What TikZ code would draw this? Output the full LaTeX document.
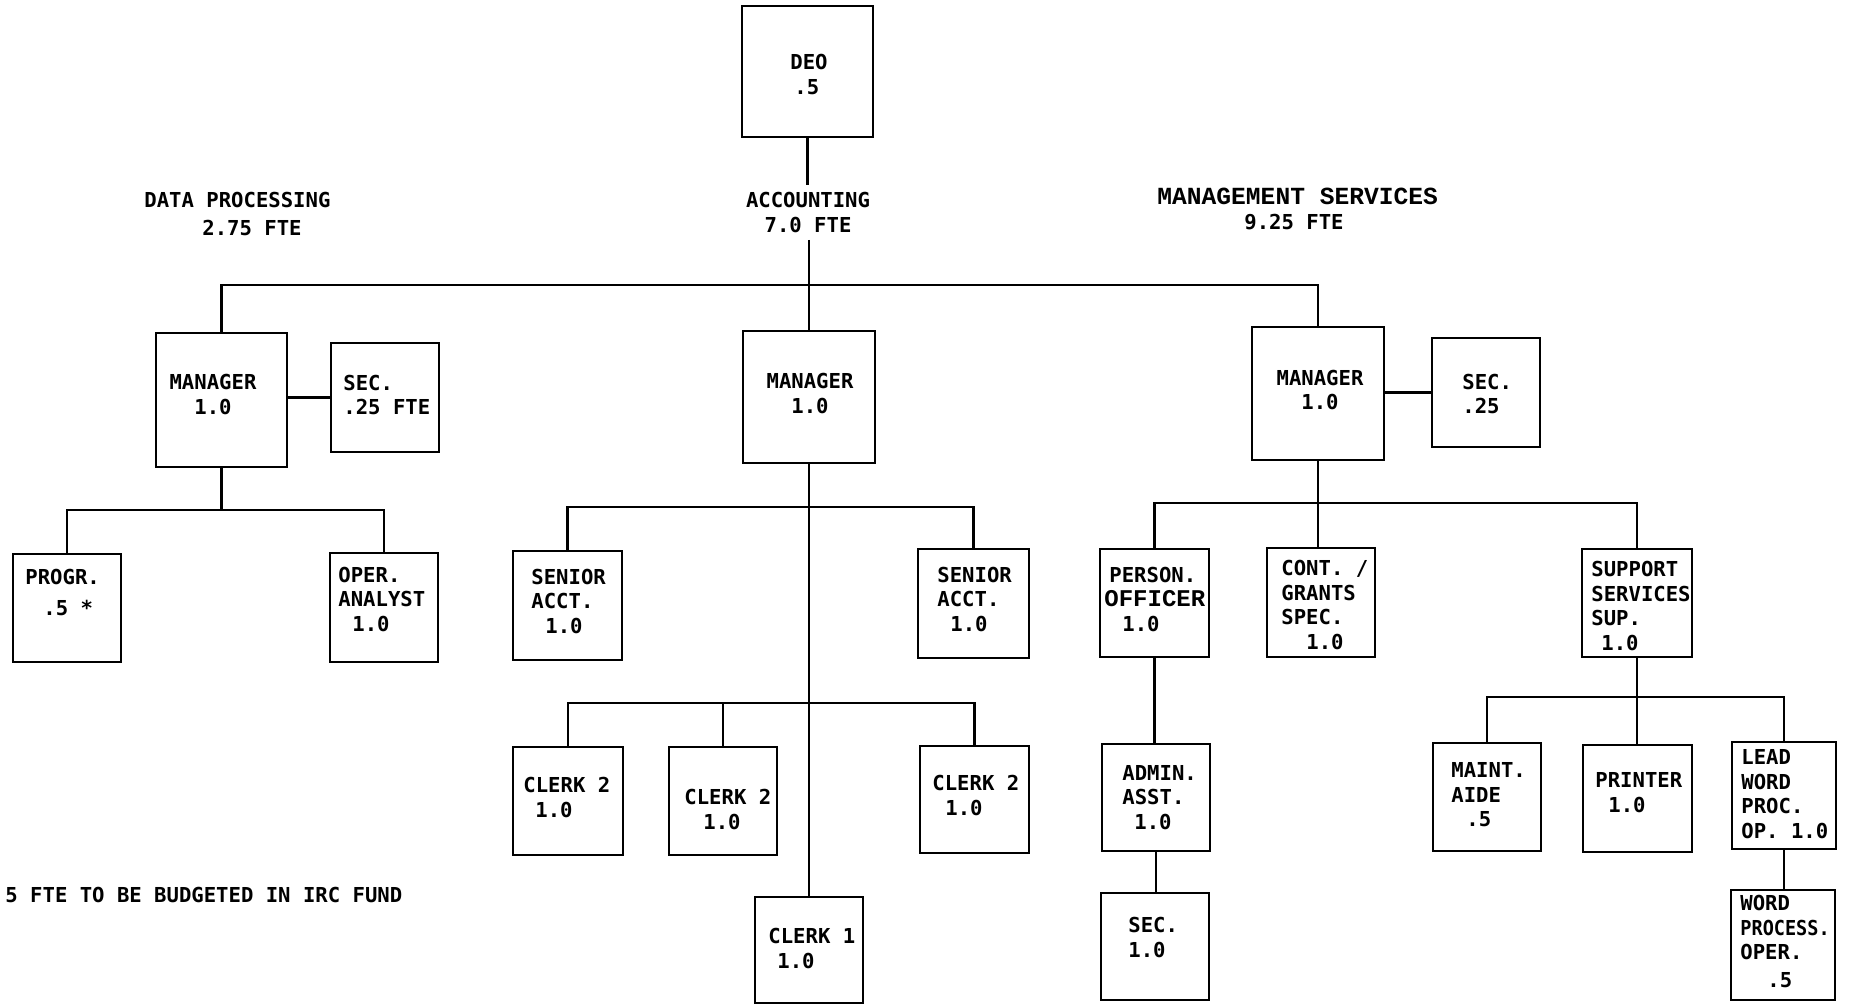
\documentclass[tikz,border=0pt]{standalone}
\usepackage{fontspec}
\usepackage{graphicx}
\newfontfamily\lgf{DejaVu Sans Mono}
\newfontfamily\courf{Liberation Mono}
\usetikzlibrary{fit}
\tikzset{
  box/.style={draw, line width=1.4pt, inner sep=0pt, rectangle},
  conn/.style={line width=1.3pt},
  txt/.style={inner sep=0pt, align=left, anchor=west, font=\lgf\bfseries\fontsize{10.3pt}{12.25pt}\selectfont},
  ctxt/.style={txt, align=center, anchor=center},
  cour/.style={inner sep=0pt, anchor=west, font=\courf\bfseries\fontsize{12.3pt}{14pt}\selectfont},
}
\newcommand\offc{\courf\bfseries\fontsize{12pt}{12.25pt}\selectfont}
\begin{document}
\begin{tikzpicture}[x=0.5pt,y=-0.5pt]
\fill[white] (0,0) rectangle (1850,1007);
\useasboundingbox (0,0) rectangle (1850,1007);

% boxes
\node[box, fit={(742,6)(873,137)}] (deo) {};
\node[box, fit={(156,333)(287,467)}] (dpmgr) {};
\node[box, fit={(331,343)(439,452)}] (dpsec) {};
\node[box, fit={(743,331)(875,463)}] (accmgr) {};
\node[box, fit={(1252,327)(1384,460)}] (msmgr) {};
\node[box, fit={(1432,338)(1540,447)}] (mssec) {};
\node[box, fit={(13,554)(121,662)}] (progr) {};
\node[box, fit={(330,553)(438,662)}] (oper) {};
\node[box, fit={(513,551)(622,660)}] (senA) {};
\node[box, fit={(918,549)(1029,658)}] (senB) {};
\node[box, fit={(513,747)(623,855)}] (clkA) {};
\node[box, fit={(669,747)(777,855)}] (clkB) {};
\node[box, fit={(920,746)(1029,853)}] (clkC) {};
\node[box, fit={(755,897)(863,1003)}] (clk1) {};
\node[box, fit={(1100,549)(1209,657)}] (person) {};
\node[box, fit={(1267,548)(1375,657)}] (cont) {};
\node[box, fit={(1582,549)(1692,657)}] (supp) {};
\node[box, fit={(1102,744)(1210,851)}] (admin) {};
\node[box, fit={(1101,893)(1209,1000)}] (sec1) {};
\node[box, fit={(1433,743)(1541,851)}] (maint) {};
\node[box, fit={(1583,745)(1692,852)}] (printer) {};
\node[box, fit={(1732,742)(1836,849)}] (lead) {};
\node[box, fit={(1731,890)(1835,1000)}] (wordp) {};

% headings
\node[txt] (dplbl) at (144,214) {DATA PROCESSING\\[2pt]\hspace*{29pt}2.75 FTE};
\node[ctxt, inner ysep=3.5pt] (acclbl) at (808,212.5) {ACCOUNTING\\7.0 FTE};
\node[cour] (mslbl) at (1157,196) {MANAGEMENT SERVICES};
\node[txt] (msfte) at (1244,222) {9.25 FTE};

% connectors
\coordinate (bus0) at (0,285);
\coordinate (dpb) at (0,510);
\coordinate (accb1) at (0,507);
\coordinate (accb2) at (0,703);
\coordinate (msb) at (0,503);
\coordinate (ssb) at (0,697);

\draw[conn] (deo.south) -- (deo.south |- acclbl.north);
\draw[conn] (acclbl.south -| accmgr.north) -- (accmgr.north);
\draw[conn] (dpmgr.north) -- (dpmgr.north |- bus0) -- (msmgr.north |- bus0) -- (msmgr.north);

\draw[conn] (dpmgr.south) -- (dpmgr.south |- dpb);
\draw[conn] (progr.north) -- (progr.north |- dpb) -- (oper.north |- dpb) -- (oper.north);
\draw[conn] (dpsec.west) -- (dpsec.west -| dpmgr.east);

\draw[conn] (accmgr.south) -- (accmgr.south |- clk1.north);
\draw[conn] (senA.north) -- (senA.north |- accb1) -- (senB.north |- accb1) -- (senB.north);
\draw[conn] (clkA.north) -- (clkA.north |- accb2) -- (clkC.north |- accb2) -- (clkC.north);
\draw[conn] (clkB.north) -- (clkB.north |- accb2);

\draw[conn] (msmgr.south) -- (msmgr.south |- cont.north);
\draw[conn] (person.north) -- (person.north |- msb) -- (supp.north |- msb) -- (supp.north);
\draw[conn] (mssec.west) -- (mssec.west -| msmgr.east);
\draw[conn] (person.south) -- (person.south |- admin.north);
\draw[conn] (admin.south) -- (admin.south |- sec1.north);
\draw[conn] (supp.south) -- (supp.south |- printer.north);
\draw[conn] (maint.north) -- (maint.north |- ssb) -- (lead.north |- ssb) -- (lead.north);
\draw[conn] (lead.south) -- (lead.south |- wordp.north);

% box texts
\node[txt] (tdeo) at (790,74.5) {DEO\\\hspace*{2pt}.5};
\node[ctxt] (tdpmgr) at (213,394.5) {MANAGER\\1.0};
\node[txt] (tdpsec) at (343,395) {SEC.\\.25 FTE};
\node[ctxt] (taccmgr) at (810,393.5) {MANAGER\\1.0};
\node[ctxt] (tmsmgr) at (1320,390) {MANAGER\\1.0};
\node[txt] (tmssec) at (1462,394) {SEC.\\.25};
\node[txt] (tprogr) at (25,592.5) {PROGR.\\[3pt]\hspace*{9pt}.5 *};
\node[txt] (toper) at (338,599) {OPER.\\ANALYST\\\hspace*{7pt}1.0};
\node[txt] (tsenA) at (531,601) {SENIOR\\ACCT.\\\hspace*{7pt}1.0};
\node[txt] (tsenB) at (937,599) {SENIOR\\ACCT.\\\hspace*{6.5pt}1.0};
\node[txt] (tclkA) at (523,797.5) {CLERK 2\\\hspace*{6pt}1.0};
\node[txt] (tclkB) at (684,809.5) {CLERK 2\\\hspace*{9.5pt}1.0};
\node[txt] (tclkC) at (932,795.5) {CLERK 2\\\hspace*{6.5pt}1.0};
\node[txt] (tclk1) at (768,948.5) {CLERK 1\\\hspace*{4.5pt}1.0};
\node[txt] (tperson) at (1104,599) {\hspace*{2.5pt}PERSON.\\{\offc OFFICER}\\\hspace*{9pt}1.0};
\node[txt] (tcont) at (1281,605) {CONT. /\\GRANTS\\SPEC.\\\hspace*{12.5pt}1.0};
\node[txt] (tsupp) at (1591,606) {SUPPORT\\SERVICES\\SUP.\\\hspace*{5pt}1.0};
\node[txt] (tadmin) at (1122,797.5) {ADMIN.\\ASST.\\\hspace*{6pt}1.0};
\node[txt] (tsec1) at (1128,937.5) {SEC.\\1.0};
\node[txt] (tmaint) at (1451,795) {MAINT.\\AIDE\\\hspace*{7.5pt}.5};
\node[txt] (tprinter) at (1595,792.5) {PRINTER\\\hspace*{6.5pt}1.0};
\node[txt] (tlead) at (1741,794) {LEAD\\WORD\\PROC.\\OP. 1.0};
\node[txt] (twordp) at (1740,941.5) {WORD\\\scalebox{0.9}[1]{PROCESS.}\\OPER.\\[1.5pt]\hspace*{13.5pt}.5};

% footnote
\node[txt] (fnote) at (5,895) {5 FTE TO BE BUDGETED IN IRC FUND};
\end{tikzpicture}
\end{document}
